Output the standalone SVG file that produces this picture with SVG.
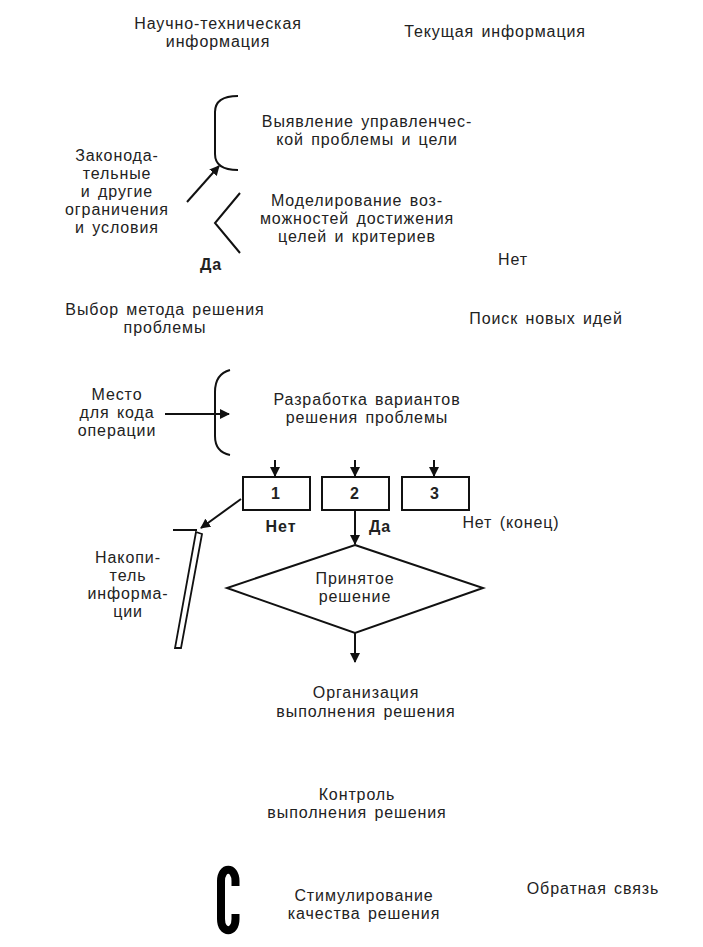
<svg xmlns="http://www.w3.org/2000/svg" width="703" height="947" viewBox="0 0 703 947">
<style>
text{font-family:"Liberation Sans",Arial,sans-serif;font-size:16px;letter-spacing:0.9px;fill:#222;text-anchor:middle;word-spacing:2px}
.b{font-weight:bold}
.ln{fill:none;stroke:#111;stroke-width:2}
.bx{fill:#fff;stroke:#111;stroke-width:2}
</style>
<defs>
<marker id="ah" viewBox="0 0 10 10" refX="9" refY="5" markerWidth="10" markerHeight="10" markerUnits="userSpaceOnUse" orient="auto"><path d="M0,0 L10,5 L0,10 z" fill="#111"/></marker>
</defs>
<rect width="703" height="947" fill="#fff"/>
<g id="n-sci"><text x="218" y="29">Научно-техническая</text><text x="218" y="47">информация</text></g>
<g id="n-cur"><text x="495" y="37">Текущая  информация</text></g>
<g id="n-ident"><text x="367" y="127">Выявление  управленчес-</text><text x="367" y="145">кой  проблемы  и  цели</text></g>
<g id="n-model"><text x="357" y="206">Моделирование  воз-</text><text x="357" y="224">можностей  достижения</text><text x="357" y="242">целей  и  критериев</text></g>
<g id="n-law"><text x="117" y="161">Законода-</text><text x="117" y="179">тельные</text><text x="117" y="197">и  другие</text><text x="117" y="215">ограничения</text><text x="117" y="233">и  условия</text></g>
<g id="n-da1"><text x="211" y="270" class="b">Да</text></g>
<g id="n-net1"><text x="513" y="265">Нет</text></g>
<g id="n-method"><text x="165" y="315">Выбор  метода  решения</text><text x="165" y="333">проблемы</text></g>
<g id="n-ideas"><text x="546" y="324">Поиск  новых  идей</text></g>
<g id="n-place"><text x="117" y="400">Место</text><text x="117" y="418">для  кода</text><text x="117" y="436">операции</text></g>
<g id="n-dev"><text x="367" y="405">Разработка  вариантов</text><text x="367" y="423">решения  проблемы</text></g>
<g id="n-box1"><rect class="bx" x="243" y="477" width="67" height="33"/><text x="276" y="499" class="b">1</text></g>
<g id="n-box2"><rect class="bx" x="322" y="477" width="67" height="33"/><text x="355" y="499" class="b">2</text></g>
<g id="n-box3"><rect class="bx" x="402" y="477" width="67" height="33"/><text x="435" y="499" class="b">3</text></g>
<g id="n-lbl"><text x="281" y="532" class="b">Нет</text><text x="380" y="532" class="b">Да</text><text x="511" y="528">Нет  (конец)</text></g>
<g id="n-store"><path class="ln" d="M173,530 H197" stroke-width="1.8"/><path d="M196,532 L202,534 L181,648 L175,648 Z" fill="none" stroke="#111" stroke-width="1.8"/><text x="128" y="563">Накопи-</text><text x="128" y="581">тель</text><text x="128" y="599">информа-</text><text x="128" y="617">ции</text></g>
<g id="n-dec"><path class="bx" d="M355,545 L483,588 L355,633 L227,588 Z"/><text x="355" y="584">Принятое</text><text x="355" y="602">решение</text></g>
<g id="n-org"><text x="366" y="698">Организация</text><text x="366" y="717">выполнения  решения</text></g>
<g id="n-ctrl"><text x="357" y="800">Контроль</text><text x="357" y="818">выполнения  решения</text></g>
<g id="n-stim"><text x="364" y="901">Стимулирование</text><text x="364" y="919">качества  решения</text></g>
<g id="n-c"><path d="M235.5,886 V881 C235.5,866 221,866 221,881 V919 C221,934 235.5,934 235.5,919 V914" fill="none" stroke="#000" stroke-width="8"/></g>
<g id="n-fb"><text x="593" y="894">Обратная  связь</text></g>
<g id="connectors">
<path class="ln" d="M238,96 Q215,96 215,112 V154 Q215,170 238,170"/>
<path class="ln" d="M187,202 L219,166" marker-end="url(#ah)"/>
<path class="ln" d="M240,193 L215,223 L240,253"/>
<path class="ln" d="M230,370 Q215,374 215,392 V436 Q215,452 230,455"/>
<path class="ln" d="M165,414 L229,414" marker-end="url(#ah)"/>
<path class="ln" d="M275,460 V476" marker-end="url(#ah)"/>
<path class="ln" d="M355,460 V476" marker-end="url(#ah)"/>
<path class="ln" d="M434,460 V476" marker-end="url(#ah)"/>
<path class="ln" d="M241,499 L201,528" marker-end="url(#ah)"/>
<path class="ln" d="M355,510 V544" marker-end="url(#ah)"/>
<path class="ln" d="M355,633 V662" marker-end="url(#ah)"/>
</g>
</svg>
